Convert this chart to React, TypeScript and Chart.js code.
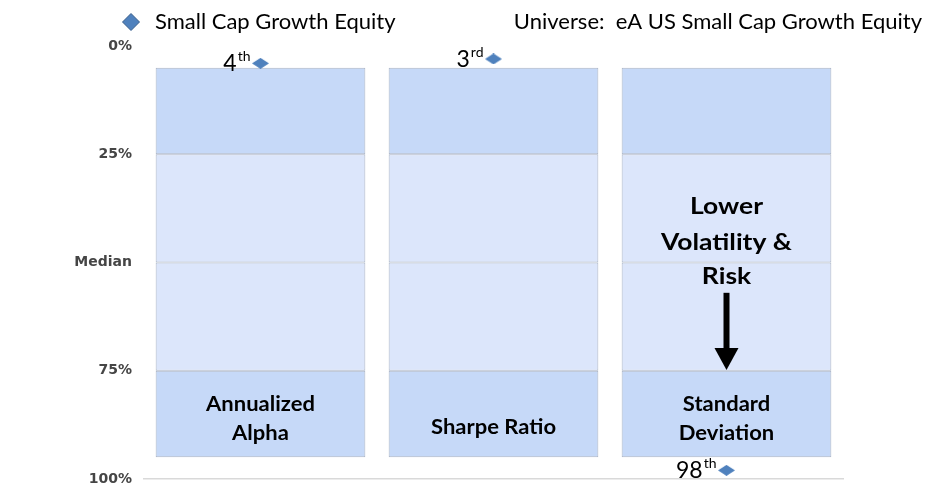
import React, { useEffect, useRef } from 'react';
import { Chart, registerables } from 'chart.js';

Chart.register(...registerables);

const categories = ['Annualized Alpha', 'Sharpe Ratio', 'Standard Deviation'];
const barLabelLines = [['Annualized', 'Alpha'], ['Sharpe Ratio'], ['Standard', 'Deviation']];
const band5to25 = [[5, 25], [5, 25], [5, 25]];
const band25to50 = [[25, 50], [25, 50], [25, 50]];
const band50to75 = [[50, 75], [50, 75], [50, 75]];
const band75to95 = [[75, 95], [75, 95], [75, 95]];
const fundRanks = [4, 3, 98];
const rankNumbers = ['4', '3', '98'];
const rankSuffixes = ['th', 'rd', 'th'];
const tickValues = [0, 25, 50, 75, 100];
const tickLabels = ['0%', '25%', 'Median', '75%', '100%'];
const seriesName = 'Small Cap Growth Equity';
const universeLabel = 'Universe:  eA US Small Cap Growth Equity';
const noteLines = ['Lower', 'Volatility &', 'Risk'];
const noteCategoryIndex = 2;

const DARK = '#c6d9f8';
const LIGHT = '#dce6fb';
const EDGE = '#a9b3c4';
const DIAMOND = '#4f81bd';
const FONT = 'Lato, "Open Sans", sans-serif';

function makeDiamond(w: number, h: number) {
  const c = document.createElement('canvas');
  c.width = w;
  c.height = h;
  const g = c.getContext('2d')!;
  g.fillStyle = DIAMOND;
  g.beginPath();
  g.moveTo(w / 2, 0);
  g.lineTo(w, h / 2);
  g.lineTo(w / 2, h);
  g.lineTo(0, h / 2);
  g.closePath();
  g.fill();
  return c;
}

function stretchText(ctx: CanvasRenderingContext2D, text: string, x: number, y: number, sx: number) {
  ctx.save();
  ctx.translate(x, y);
  ctx.scale(sx, 1);
  ctx.fillText(text, 0, 0);
  ctx.restore();
}

const overlayPlugin = {
  id: 'overlay',
  afterDraw(chart: any) {
    const { ctx } = chart;
    const x = chart.scales.x;
    const y = chart.scales.y;
    ctx.save();

    // legend
    const lx = 131, ly = 22, r = 8.5;
    ctx.fillStyle = DIAMOND;
    ctx.strokeStyle = '#385d8a';
    ctx.lineWidth = 1;
    ctx.beginPath();
    ctx.moveTo(lx, ly - r);
    ctx.lineTo(lx + r, ly);
    ctx.lineTo(lx, ly + r);
    ctx.lineTo(lx - r, ly);
    ctx.closePath();
    ctx.fill();
    ctx.stroke();
    ctx.fillStyle = '#000';
    ctx.font = `22px ${FONT}`;
    ctx.textBaseline = 'middle';
    ctx.textAlign = 'left';
    ctx.fillText(seriesName, 155, 22);
    ctx.textAlign = 'right';
    ctx.fillText(universeLabel, 922, 22);

    // rank labels
    fundRanks.forEach((v, i) => {
      const px = x.getPixelForValue(i);
      const py = y.getPixelForValue(v);
      ctx.textAlign = 'right';
      ctx.textBaseline = 'alphabetic';
      ctx.font = `14px ${FONT}`;
      const supRight = px - 10;
      const supW = ctx.measureText(rankSuffixes[i]).width;
      ctx.fillText(rankSuffixes[i], supRight, py - 2);
      ctx.font = `23px ${FONT}`;
      ctx.fillText(rankNumbers[i], supRight - supW - 1, py + 8);
    });

    // bar labels
    ctx.font = `bold 20px ${FONT}`;
    ctx.textAlign = 'center';
    ctx.textBaseline = 'middle';
    ctx.fillStyle = '#000';
    barLabelLines.forEach((lines, i) => {
      const px = x.getPixelForValue(i);
      if (lines.length === 1) {
        stretchText(ctx, lines[0], px, y.getPixelForValue(88.2), 1.1);
      } else {
        stretchText(ctx, lines[0], px, y.getPixelForValue(82.8), 1.1);
        stretchText(ctx, lines[1], px, y.getPixelForValue(89.4), 1.1);
      }
    });

    // note + arrow
    const nx = x.getPixelForValue(noteCategoryIndex);
    ctx.font = `bold 23px ${FONT}`;
    const notePos = [37.0, 45.3, 53.2];
    noteLines.forEach((t, k) => stretchText(ctx, t, nx, y.getPixelForValue(notePos[k]), 1.15));
    const a0 = y.getPixelForValue(57);
    const a1 = y.getPixelForValue(74.8);
    ctx.strokeStyle = '#000';
    ctx.lineWidth = 6;
    ctx.beginPath();
    ctx.moveTo(nx, a0);
    ctx.lineTo(nx, a1 - 14);
    ctx.stroke();
    ctx.fillStyle = '#000';
    ctx.beginPath();
    ctx.moveTo(nx - 12, a1 - 22);
    ctx.lineTo(nx + 12, a1 - 22);
    ctx.lineTo(nx, a1);
    ctx.closePath();
    ctx.fill();

    ctx.restore();
  },
};

export default function App() {
  const ref = useRef<HTMLCanvasElement>(null);
  useEffect(() => {
    document.body.style.margin = '0';
    const diamond = makeDiamond(17, 11);
    const band = (label: string, data: number[][], color: string) => ({
      type: 'bar' as const,
      label,
      data,
      backgroundColor: color,
      borderColor: EDGE,
      borderWidth: 1,
      borderSkipped: false,
      barPercentage: 0.9,
      categoryPercentage: 1,
      order: 2,
    });
    const chart = new Chart(ref.current!, {
      type: 'bar',
      data: {
        labels: categories,
        datasets: [
          band('5-25', band5to25, DARK),
          band('25-50', band25to50, LIGHT),
          band('50-75', band50to75, LIGHT),
          band('75-95', band75to95, DARK),
          {
            type: 'line' as const,
            label: seriesName,
            data: fundRanks,
            showLine: false,
            pointStyle: diamond as any,
            pointRadius: 8,
            clip: false,
            order: 0,
          } as any,
        ],
      },
      options: {
        responsive: false,
        animation: false,
        layout: { autoPadding: false, padding: { top: 46, right: 87, bottom: 5, left: 0 } },
        plugins: { legend: { display: false }, tooltip: { enabled: false } },
        scales: {
          x: {
            stacked: true,
            grid: { display: false },
            ticks: { display: false },
            border: { display: true, color: '#d9d9d9', width: 1.5 },
            afterFit: (s: any) => { s.height = 0; s.paddingLeft = 0; s.paddingRight = 0; },
          },
          y: {
            min: 0,
            max: 100,
            reverse: true,
            grid: { display: false, drawTicks: true, tickLength: 8 },
            border: { display: false },
            afterBuildTicks: (s: any) => { s.ticks = tickValues.map((v) => ({ value: v })); },
            afterFit: (s: any) => { s.width = 144; s.paddingTop = 0; s.paddingBottom = 0; },
            ticks: {
              padding: 4,
              color: '#454545',
              font: { family: '"DejaVu Sans", sans-serif', size: 14, weight: 'bold' },
              callback: (_v: any, i: number) => tickLabels[i],
            },
          },
        },
      },
      plugins: [overlayPlugin],
    });
    return () => chart.destroy();
  }, []);
  return <canvas ref={ref} width={930} height={484} style={{ display: 'block' }} />;
}
